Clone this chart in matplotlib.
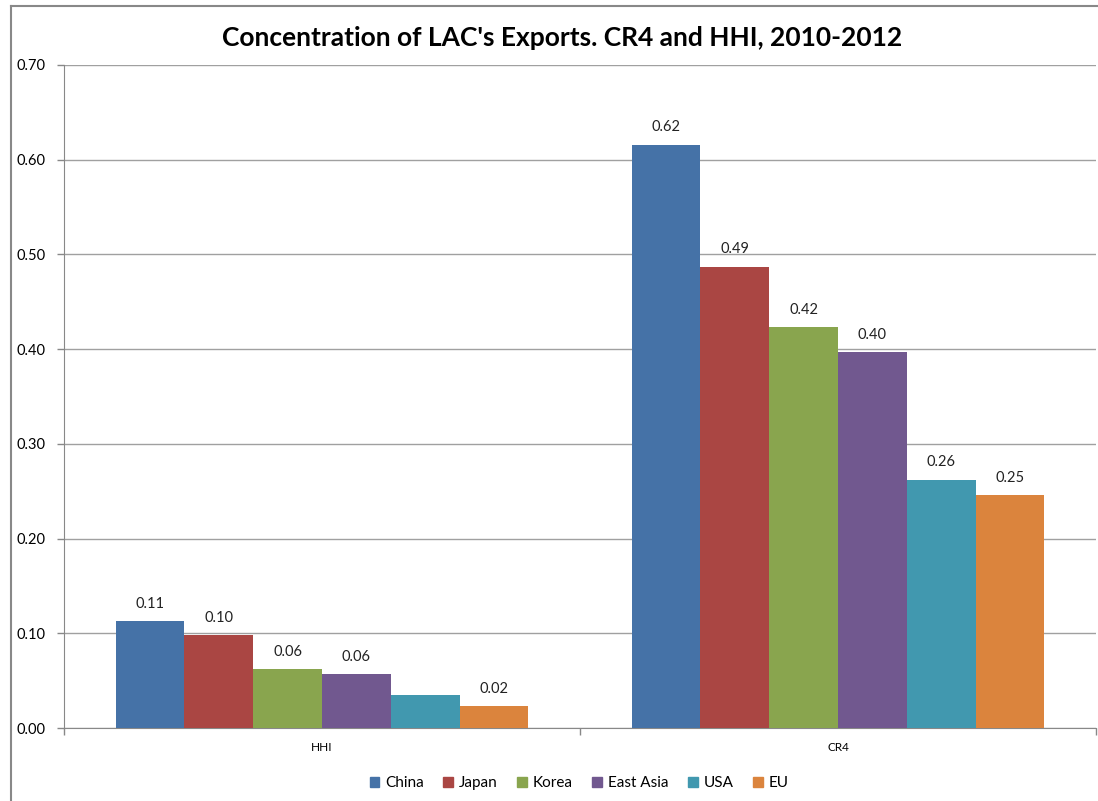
import matplotlib.pyplot as plt
import numpy as np
from matplotlib.lines import Line2D

plt.rcParams['font.family'] = ['Lato', 'DejaVu Sans']

measures = ["HHI", "CR4"]
regions = ["China", "Japan", "Korea", "East Asia", "USA", "EU"]
hhi = [0.113, 0.098, 0.062, 0.057, 0.035, 0.023]
cr4 = [0.616, 0.487, 0.423, 0.397, 0.262, 0.246]
# the HHI bar for USA carries no value label
show_label = {"HHI": [True, True, True, True, False, True],
              "CR4": [True] * 6}
colors = ["#4572A7", "#AA4643", "#89A54E", "#71588F", "#4198AF", "#DB843D"]

fig = plt.figure(figsize=(10.98, 8.01), dpi=100)
ax = fig.add_axes([64 / 1098, 1 - 728 / 801, 1032 / 1098, 663 / 801])

values = np.array([hhi, cr4])
n = len(regions)
group_w = 0.8
bar_w = group_w / n
x = np.arange(len(measures))
for i, region in enumerate(regions):
    pos = x - group_w / 2 + bar_w * (i + 0.5)
    bars = ax.bar(pos, values[:, i], width=bar_w, color=colors[i],
                  label=region, zorder=3)
    for j, b in enumerate(bars):
        if show_label[measures[j]][i]:
            ax.text(b.get_x() + b.get_width() / 2, b.get_height() + 0.011,
                    f"{values[j, i]:.2f}", ha="center", va="bottom",
                    fontsize=10.5, color="#222222")

ax.set_xlim(-0.5, 1.5)
ax.set_ylim(0, 0.70)
ax.set_yticks(np.arange(0, 0.71, 0.10))
ax.set_yticklabels([f"{v:.2f}" for v in np.arange(0, 0.71, 0.10)])
ax.yaxis.grid(True, color="#A0A0A0", linewidth=1, zorder=0)
ax.set_axisbelow(True)

# category ticks sit between the groups, labels centred under each group
ax.set_xticks([-0.5, 0.5, 1.5])
ax.set_xticklabels(["", "", ""])
ax.set_xticks(x, minor=True)
ax.set_xticklabels(measures, minor=True)
ax.tick_params(axis="x", which="minor", length=0, pad=10, labelsize=8.5)
ax.tick_params(axis="x", which="major", length=5, color="#888888", width=1)
ax.tick_params(axis="y", length=5, color="#888888", width=1, labelsize=10.5,
               pad=8)

for side in ["top", "right"]:
    ax.spines[side].set_visible(False)
for side in ["left", "bottom"]:
    ax.spines[side].set_color("#888888")

fig.text(562 / 1098, 1 - 38 / 801, "Concentration of LAC's Exports. CR4 and HHI, 2010-2012",
         ha="center", va="center", fontsize=19, fontweight="bold")

handles = [plt.Rectangle((0, 0), 1, 1, color=c) for c in colors]
fig.legend(handles, regions, loc="center", bbox_to_anchor=(579 / 1098, 1 - 783 / 801),
           ncol=6, frameon=False, fontsize=11, handlelength=0.65, handleheight=0.65,
           handletextpad=0.35, columnspacing=1.3)

# outer chart border (left and top edges visible)
fig.add_artist(Line2D([11 / 1098, 11 / 1098], [0, 1 - 6 / 801],
                      transform=fig.transFigure, color="#888888", linewidth=1.5))
fig.add_artist(Line2D([11 / 1098, 1], [1 - 6 / 801, 1 - 6 / 801],
                      transform=fig.transFigure, color="#888888", linewidth=1.5))

fig.savefig("out.png", dpi=100)
